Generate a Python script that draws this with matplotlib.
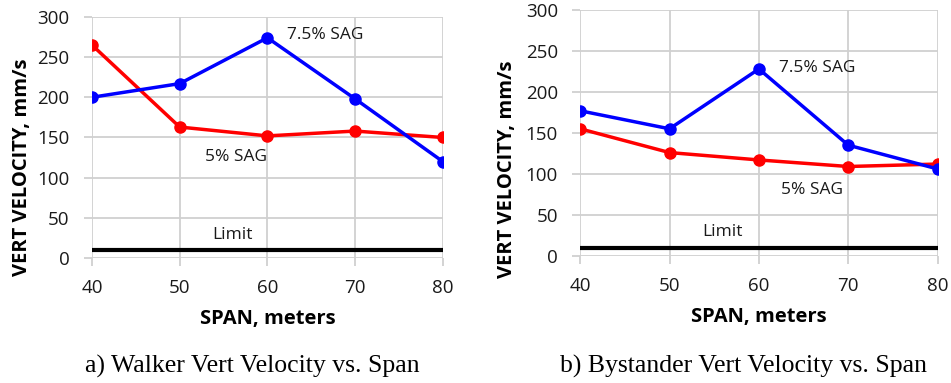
import matplotlib.pyplot as plt

# Dados
span = [40, 50, 60, 70, 80]
walker_sag5 = [265, 163, 152, 158, 150]
walker_sag75 = [200, 217, 274, 198, 120]
bystander_sag5 = [155, 126, 117, 109, 112]
bystander_sag75 = [177, 155, 228, 135, 106]
limite = 10

yticks = [0, 50, 100, 150, 200, 250, 300]

fig = plt.figure(figsize=(9.51, 3.83), dpi=100)
ax1 = fig.add_axes([0.0967, 0.326, 0.369, 0.630])
ax2 = fig.add_axes([0.610, 0.332, 0.376, 0.642])

paineis = [
    (ax1, walker_sag5, walker_sag75, (62.2, 277), (52.9, 126), (53.7, 29),
     'a) Walker Vert Velocity vs. Span', 0.265, (-0.199, 0.378)),
    (ax2, bystander_sag5, bystander_sag75, (62.3, 229), (62.5, 80), (53.7, 29),
     'b) Bystander Vert Velocity vs. Span', 0.782, (-0.204, 0.354)),
]

for ax, sag5, sag75, pos75, pos5, poslim, legenda, xcap, ylab in paineis:
    ax.plot(span, [limite] * len(span), color='black', linewidth=3, zorder=3)
    ax.plot(span, sag5, color='#ff0000', marker='o', markersize=8, linewidth=2.5, zorder=4)
    ax.plot(span, sag75, color='#0000ff', marker='o', markersize=8, linewidth=2.5, zorder=5)
    ax.set_xlim(40, 80)
    ax.set_ylim(0, 300)
    ax.set_xticks(span)
    ax.set_yticks(yticks)
    ax.grid(True, color='#d0d0d0', linewidth=1.3)
    ax.set_axisbelow(True)
    for s in ax.spines.values():
        s.set_visible(False)
    ax.tick_params(axis='both', colors='#d0d0d0', width=1.3, length=6,
                   labelcolor='#1a1a1a', labelsize=13.5)
    ax.tick_params(axis='y', pad=10)
    ax.tick_params(axis='x', pad=9)
    for lbl in ax.get_xticklabels() + ax.get_yticklabels():
        lbl.set_family('Open Sans')
    ax.set_xlabel('SPAN, meters', fontsize=14.5, fontweight='bold', family='Open Sans',
                  labelpad=9)
    ax.set_ylabel('VERT VELOCITY, mm/s', fontsize=14.5, fontweight='bold',
                  family='Open Sans', va='center')
    ax.yaxis.set_label_coords(ylab[0], ylab[1])
    ax.text(pos75[0], pos75[1], '7.5% SAG', fontsize=12.5, family='Open Sans',
            va='center', color='#1a1a1a')
    ax.text(pos5[0], pos5[1], '5% SAG', fontsize=12.5, family='Open Sans',
            va='center', color='#1a1a1a')
    ax.text(poslim[0], poslim[1], 'Limit', fontsize=12.5, family='Open Sans',
            va='center', color='#1a1a1a')
    fig.text(xcap, 0.042, legenda, fontsize=18.5, family='Liberation Serif',
             ha='center', va='center', color='black')

fig.savefig('out.png', dpi=100)
